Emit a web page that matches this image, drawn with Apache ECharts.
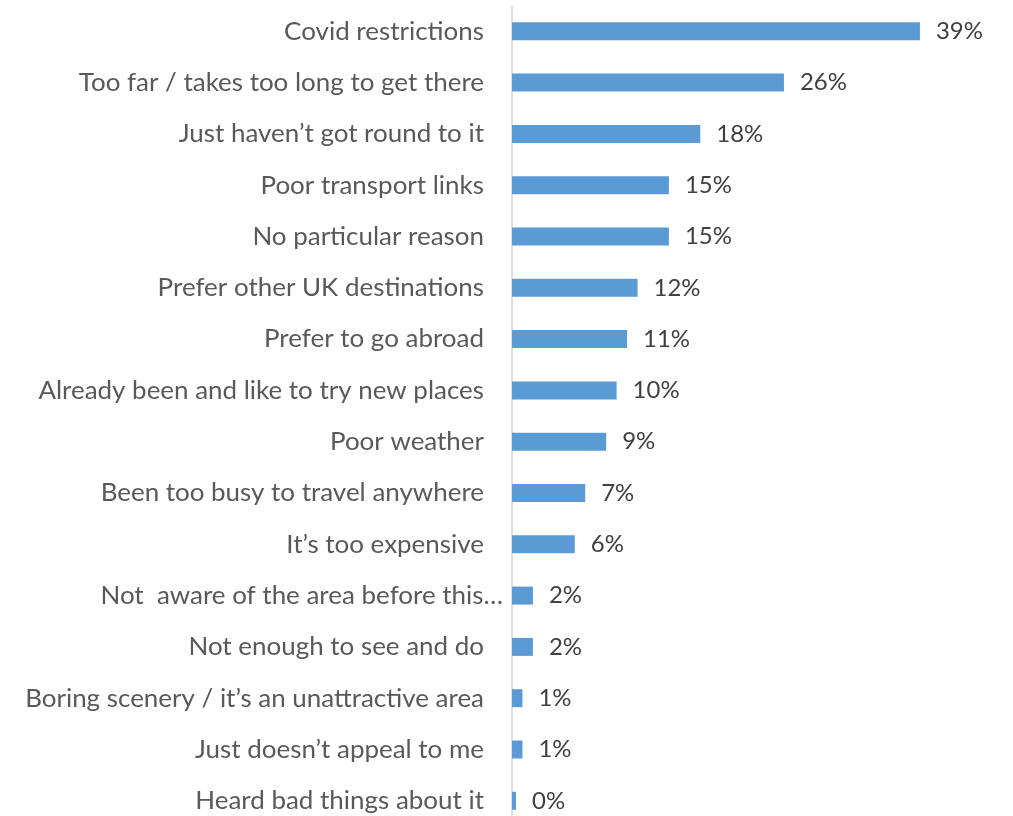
<!DOCTYPE html>
<html>
<head>
<meta charset="utf-8">
<script src="https://cdn.jsdelivr.net/npm/echarts@6/dist/echarts.min.js"></script>
<style>
  html, body { margin: 0; padding: 0; background: #ffffff; }
  #chart { width: 1013px; height: 816px; }
</style>
</head>
<body>
<div id="chart"></div>
<script>
// Reasons given, listed from most to least common
const categories = [
  'Covid restrictions',
  'Too far / takes too long to get there',
  'Just haven’t got round to it',
  'Poor transport links',
  'No particular reason',
  'Prefer other UK destinations',
  'Prefer to go abroad',
  'Already been and like to try new places',
  'Poor weather',
  'Been too busy to travel anywhere',
  'It’s too expensive',
  'Not  aware of the area before this…',
  'Not enough to see and do',
  'Boring scenery / it’s an unattractive area',
  'Just doesn’t appeal to me',
  'Heard bad things about it'
];

// Share of respondents (%)
const values = [39, 26, 18, 15, 15, 12, 11, 10, 9, 7, 6, 2, 2, 1, 1, 0];

// The one truncated label that runs past the others toward the axis
const wideLabels = ['Not  aware of the area before this…'];

const FONT = 'Lato';

// Pick a font size so a reference string takes up the given width
function fitSize(text, width) {
  const ctx = document.createElement('canvas').getContext('2d');
  ctx.font = '100px ' + FONT;
  return 100 * width / ctx.measureText(text).width;
}

const catSize = fitSize('Boring scenery / it’s an unattractive area', 459);
const valSize = fitSize('39%', 47);

const chart = echarts.init(document.getElementById('chart'), null, { renderer: 'canvas' });

const bandPx = 51.3;
chart.setOption({
  animation: false,
  backgroundColor: '#ffffff',
  grid: {
    left: 512,
    top: 31.3 - bandPx / 2,
    width: 40 * 10.46,
    height: bandPx * categories.length,
    containLabel: false,
    outerBoundsMode: 'none'
  },
  xAxis: {
    type: 'value',
    min: 0,
    max: 40,
    show: false
  },
  yAxis: {
    type: 'category',
    data: categories,
    inverse: true,
    axisLine: { show: true, lineStyle: { color: '#d4d4d4', width: 1.5 } },
    axisTick: { show: false },
    splitLine: { show: false },
    axisLabel: {
      margin: 9,
      formatter: function (v) {
        return wideLabels.indexOf(v) >= 0 ? '{w|' + v + '}' : '{n|' + v + '}';
      },
      rich: {
        n: { fontFamily: FONT, fontSize: catSize, color: '#595959', padding: [0, 19, 0, 0] },
        w: { fontFamily: FONT, fontSize: catSize, color: '#595959' }
      }
    }
  },
  series: [{
    type: 'bar',
    data: values,
    barWidth: 18,
    barMinHeight: 4,
    itemStyle: { color: '#5B9BD5' },
    label: {
      show: true,
      position: 'right',
      distance: 16,
      formatter: '{c}%',
      fontFamily: FONT,
      fontSize: valSize,
      color: '#404040'
    }
  }]
});
</script>
</body>
</html>
